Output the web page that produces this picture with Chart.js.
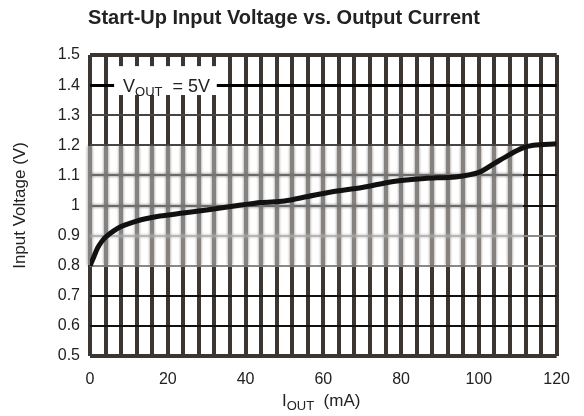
<!DOCTYPE html>
<html>
<head>
<meta charset="utf-8">
<script src="https://cdn.jsdelivr.net/npm/chart.js@4.4.1/dist/chart.umd.min.js"></script>
<style>
  html, body { margin: 0; padding: 0; background: #fff; }
  #wrap { width: 584px; height: 416px; }
</style>
</head>
<body>
<div id="wrap"><canvas id="startupChart" width="584" height="416"></canvas></div>
<script>
// Output current (mA) and the input voltage needed to start up (V)
const currentMA = [0, 1, 2, 3, 4, 6, 8, 10, 14, 18, 24, 30, 38, 44, 50, 56, 62, 70, 78, 86, 94, 100, 104, 108, 111, 114, 120];
const inputV = [0.80, 0.83, 0.86, 0.88, 0.895, 0.915, 0.93, 0.94, 0.955, 0.965, 0.975, 0.985, 1.0, 1.01, 1.015, 1.03, 1.045, 1.06, 1.08, 1.09, 1.095, 1.11, 1.14, 1.17, 1.19, 1.20, 1.205];

const xTickLabels = [0, 20, 40, 60, 80, 100, 120];
const yTickLabels = [0.5, 0.6, 0.7, 0.8, 0.9, 1.0, 1.1, 1.2, 1.3, 1.4, 1.5];

const FONT = "'Liberation Sans', Arial, sans-serif";
const GRID = "#3b3631";

// horizontal rule weights, keyed by tenths of a volt
function hLine(v) {
  const k = Math.round(v * 10);
  if (k === 5 || k === 15) return { c: GRID, w: 4 };
  if (k === 14) return { c: "#000", w: 3 };
  if (k === 13 || k === 12) return { c: "#4a4542", w: 2 };
  if (k === 8 || k === 9) return { c: "#8a8a8a", w: 2 };
  return { c: "#111", w: 2 };
}

// washed-out strip across the middle of the grid
const hazeBand = {
  id: "hazeBand",
  beforeDatasetsDraw(chart) {
    const { ctx, scales: { x, y } } = chart;
    const x0 = Math.round(x.getPixelForValue(0)) - 3;
    const x1 = Math.round(x.getPixelForValue(111.3));
    const y0 = Math.round(y.getPixelForValue(1.2)) + 1;
    const y1 = Math.round(y.getPixelForValue(0.8)) - 1;
    ctx.save();
    ctx.filter = "blur(1.4px)";
    ctx.drawImage(chart.canvas, x0, y0, x1 - x0, y1 - y0, x0, y0, x1 - x0, y1 - y0);
    ctx.filter = "none";
    ctx.fillStyle = "rgba(255,255,255,0.38)";
    ctx.fillRect(x0, y0, x1 - x0, y1 - y0);
    ctx.restore();
  }
};

// text with subscripts: the V_OUT note and the I_OUT axis title
const labels = {
  id: "labels",
  afterDatasetsDraw(chart) {
    const { ctx, scales: { x, y } } = chart;
    ctx.save();
    ctx.textBaseline = "alphabetic";
    ctx.textAlign = "left";

    // V_OUT = 5V note in a white box
    const bx0 = x.getPixelForValue(6.2), bx1 = x.getPixelForValue(32.6);
    const by0 = y.getPixelForValue(1.463), by1 = y.getPixelForValue(1.367);
    ctx.fillStyle = "#fff";
    ctx.fillRect(bx0, by0, bx1 - bx0, by1 - by0);
    ctx.fillStyle = "#222";
    const base = y.getPixelForValue(1.4) + 7;
    let tx = bx0 + 9;
    ctx.font = "18px " + FONT;
    ctx.fillText("V", tx, base);
    tx += ctx.measureText("V").width;
    ctx.font = "13px " + FONT;
    ctx.fillText("OUT", tx, base + 4);
    tx += ctx.measureText("OUT").width;
    ctx.font = "18px " + FONT;
    ctx.fillText("  = 5V", tx, base);

    // x axis title
    let ax = 282;
    const ab = 406;
    ctx.font = "17px " + FONT;
    ctx.fillText("I", ax, ab);
    ax += ctx.measureText("I").width;
    ctx.font = "13px " + FONT;
    ctx.fillText("OUT", ax, ab + 4);
    ax += ctx.measureText("OUT").width;
    ctx.font = "17px " + FONT;
    ctx.fillText("  (mA)", ax, ab);
    ctx.restore();
  }
};

new Chart(document.getElementById("startupChart"), {
  type: "line",
  data: {
    datasets: [{
      data: currentMA.map((c, i) => ({ x: c, y: inputV[i] })),
      borderColor: "#111",
      borderWidth: 5,
      pointRadius: 0,
      tension: 0.3,
      fill: false
    }]
  },
  options: {
    responsive: false,
    animation: false,
    layout: { padding: { top: 0, right: 26, bottom: 0, left: 10 } },
    plugins: {
      legend: { display: false },
      tooltip: { enabled: false },
      title: {
        display: true,
        text: "Start-Up Input Voltage vs. Output Current",
        color: "#222",
        font: { family: FONT, size: 20, weight: "bold" },
        padding: { top: 6, bottom: 25 }
      }
    },
    scales: {
      x: {
        type: "linear",
        min: 0,
        max: 120,
        afterFit(scale) { scale.height = 60; },
        afterBuildTicks(scale) {
          const t = [];
          for (let v = 0; v <= 120; v += 4) t.push({ value: v });
          scale.ticks = t;
        },
        ticks: {
          autoSkip: false,
          maxRotation: 0,
          padding: 14,
          color: "#222",
          font: { family: FONT, size: 16 },
          callback: (v) => (xTickLabels.includes(v) ? String(v) : "")
        },
        grid: { drawTicks: false, color: GRID, lineWidth: 4 },
        border: { display: false }
      },
      y: {
        type: "linear",
        min: 0.5,
        max: 1.5,
        afterFit(scale) { scale.width = 80; },
        afterBuildTicks(scale) {
          scale.ticks = yTickLabels.map((v) => ({ value: v }));
        },
        ticks: {
          padding: 10,
          color: "#222",
          font: { family: FONT, size: 16 },
          callback: (v) => String(parseFloat(Number(v).toFixed(1)))
        },
        grid: {
          drawTicks: false,
          color: (ctx) => hLine(ctx.tick ? ctx.tick.value : 1).c,
          lineWidth: (ctx) => hLine(ctx.tick ? ctx.tick.value : 1).w
        },
        border: { display: false },
        title: {
          display: true,
          text: "Input Voltage (V)",
          color: "#222",
          font: { family: FONT, size: 17 },
          padding: { top: 0, bottom: 0 }
        }
      }
    }
  },
  plugins: [hazeBand, labels]
});
</script>
</body>
</html>
